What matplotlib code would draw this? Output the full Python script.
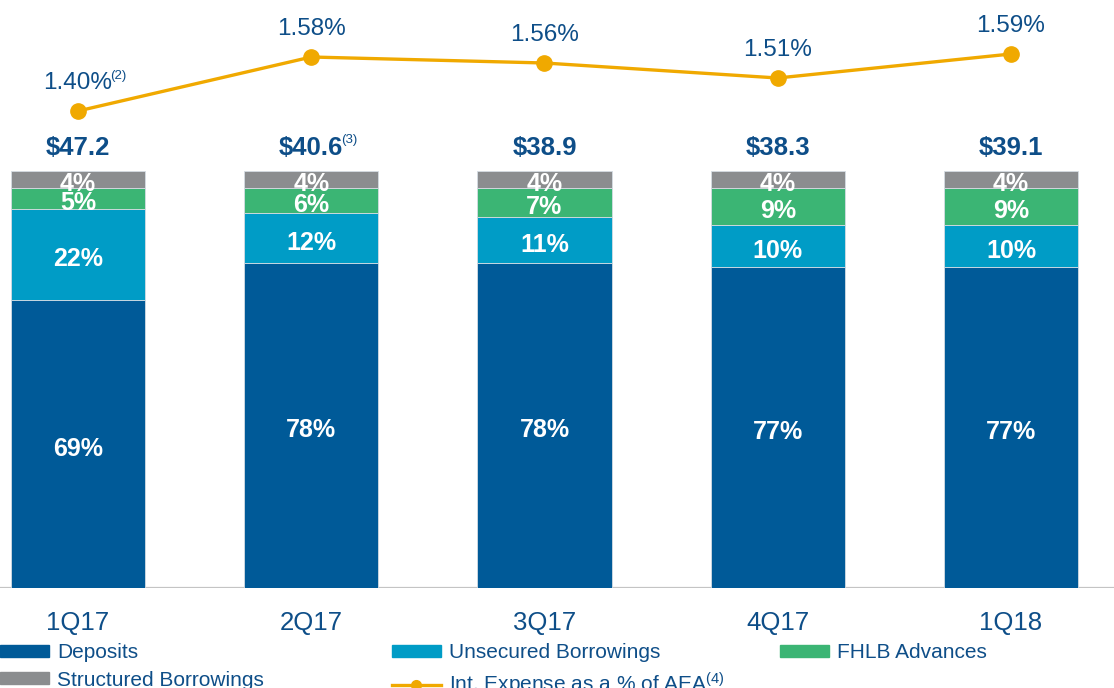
import matplotlib
matplotlib.use('Agg')
import matplotlib.pyplot as plt
import numpy as np
from matplotlib.patches import Patch
from matplotlib.lines import Line2D

# ---- data ----
quarters = ['1Q17', '2Q17', '3Q17', '4Q17', '1Q18']
deposits = [69, 78, 78, 77, 77]
unsecured = [22, 12, 11, 10, 10]
fhlb = [5, 6, 7, 9, 9]
structured = [4, 4, 4, 4, 4]
totals = ['$47.2', '$40.6', '$38.9', '$38.3', '$39.1']
total_notes = ['', '(3)', '', '', '']
int_expense = [1.40, 1.58, 1.56, 1.51, 1.59]
int_notes = ['(2)', '', '', '', '']

# ---- style ----
C_DEP = '#005A98'
C_UNS = '#009CC6'
C_FHLB = '#3BB574'
C_STR = '#8B8D8F'
C_LINE = '#F0A900'
TXT = '#0E4E88'

plt.rcParams['font.family'] = ['Liberation Sans', 'DejaVu Sans']
plt.rcParams['mathtext.fontset'] = 'custom'
plt.rcParams['mathtext.rm'] = 'Liberation Sans'
plt.rcParams['mathtext.it'] = 'Liberation Sans:italic'
plt.rcParams['mathtext.bf'] = 'Liberation Sans:bold'

W, H = 1114, 688
fig = plt.figure(figsize=(W / 100, H / 100), dpi=100)
ax = fig.add_axes([0, 100 / H, 1, 588 / H])

x = np.arange(len(quarters))
bw = 0.575
series = [(deposits, 'Deposits', C_DEP),
          (unsecured, 'Unsecured Borrowings', C_UNS),
          (fhlb, 'FHLB Advances', C_FHLB),
          (structured, 'Structured Borrowings', C_STR)]
bottom = np.zeros(len(x))
for vals, name, col in series:
    vals = np.array(vals, dtype=float)
    ax.bar(x, vals, bw, bottom=bottom, color=col, edgecolor='#D5DCE3',
           linewidth=0.6, label=name, zorder=2)
    for i, v in enumerate(vals):
        ax.annotate(f'{int(v)}%', (x[i], bottom[i] + v / 2), xytext=(0, -3.5),
                    textcoords='offset points', ha='center', va='center',
                    color='white', fontsize=18, fontweight='bold', zorder=3)
    bottom += vals

ax.set_xlim(-78 / 233.25, (W - 78) / 233.25)
ax.set_ylim(0, 100 * 588 / 417)
ax.axhline(0, color='#C4C4C4', lw=1.6, zorder=1)
for s in ax.spines.values():
    s.set_visible(False)
ax.set_yticks([])
ax.set_xticks(x)
ax.set_xticklabels(quarters, fontsize=18.5, color=TXT)
ax.tick_params(axis='x', length=0, pad=16.5)

total_texts = []
for i, t in enumerate(totals):
    tt = ax.annotate(t, (x[i], bottom[i]), xytext=(0, 16.5), textcoords='offset points',
                     ha='center', va='center', fontsize=18.5, fontweight='bold', color=TXT)
    total_texts.append(tt)

ax2 = ax.twinx()
ax2.set_ylim(-0.19, 1.77)
ax2.set_yticks([])
for s in ax2.spines.values():
    s.set_visible(False)
ax2.plot(x, int_expense, color=C_LINE, lw=2.4, marker='o', markersize=11, zorder=4)
line_texts = []
for i, v in enumerate(int_expense):
    tt = ax2.annotate(f'{v:.2f}%', (x[i], v), xytext=(0, 20), textcoords='offset points',
                      ha='center', va='center', fontsize=17.5, color=TXT)
    line_texts.append(tt)

# superscript notes
fig.canvas.draw()
rend = fig.canvas.get_renderer()
for texts, notes in ((total_texts, total_notes), (line_texts, int_notes)):
    for tt, n in zip(texts, notes):
        if n:
            bb = tt.get_window_extent(rend)
            fig.text((bb.x1 - 2) / W, (bb.y1 + 2) / H, n, ha='left', va='top',
                     fontsize=9.5, color=TXT)

# legend (three columns)
common = dict(frameon=False, fontsize=15, labelcolor=TXT, handlelength=2.35,
              handleheight=0.5, handletextpad=0.4, labelspacing=0.42,
              borderpad=0, borderaxespad=0, loc='upper left')
top_leg = (H - 643) / H
fig.legend(handles=[Patch(color=C_DEP, label='Deposits'),
                    Patch(color=C_STR, label='Structured Borrowings')],
           bbox_to_anchor=(0, top_leg), **common)
fig.legend(handles=[Patch(color=C_UNS, label='Unsecured Borrowings'),
                    Line2D([], [], color=C_LINE, lw=2.4, marker='o', markersize=7,
                           label='Int. Expense as a % of AEA$^{(4)}$')],
           bbox_to_anchor=(392 / W, top_leg), **common)
fig.legend(handles=[Patch(color=C_FHLB, label='FHLB Advances')],
           bbox_to_anchor=(780 / W, top_leg), **common)

fig.savefig('out.png', dpi=100)
